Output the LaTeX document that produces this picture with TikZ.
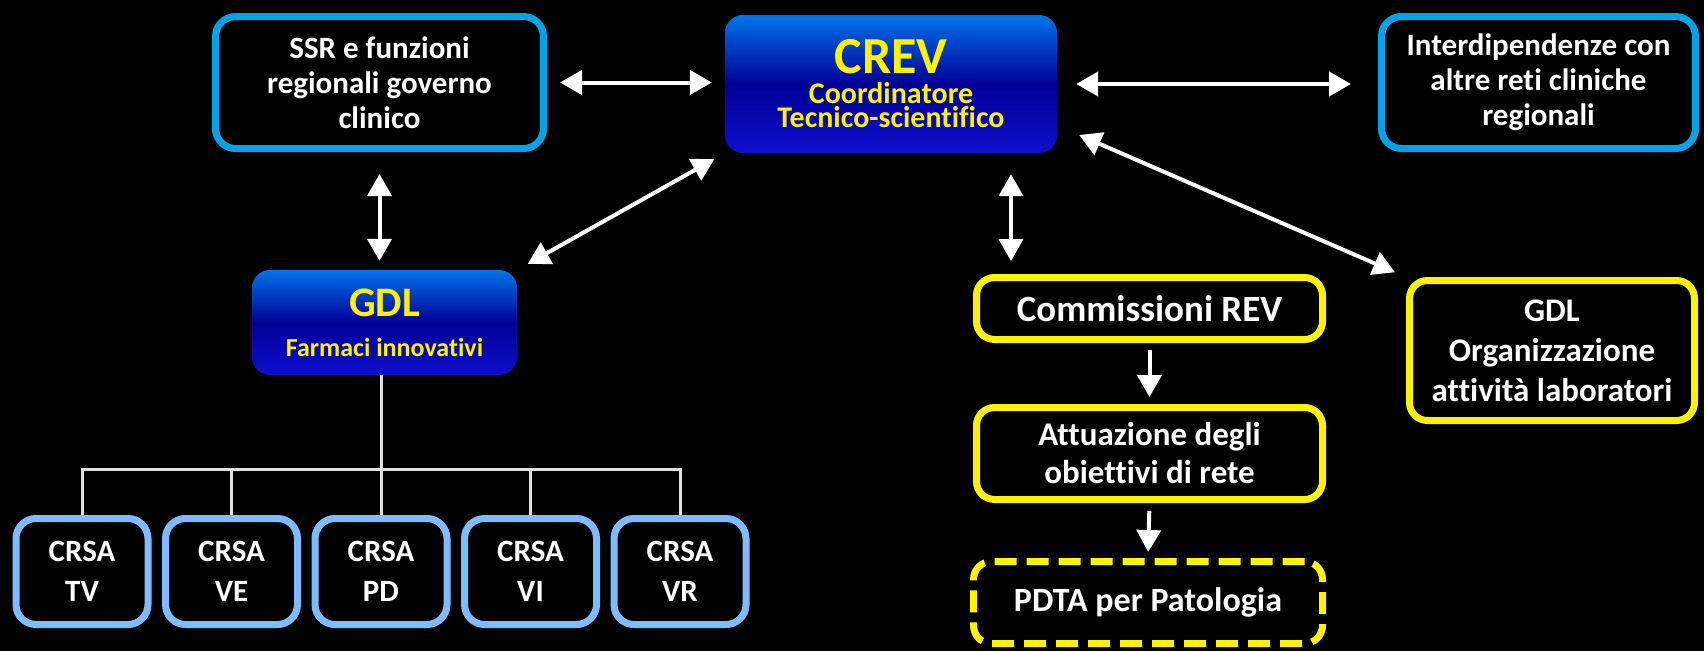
\documentclass[tikz,border=0pt]{standalone}
\usepackage{fontspec}
\setmainfont{Carlito}[Ligatures=NoCommon]
\usetikzlibrary{arrows.meta,positioning}
\definecolor{skyline}{RGB}{0,162,232}
\definecolor{crsablue}{RGB}{125,188,255}
\definecolor{crevtop}{RGB}{0,115,235}
\definecolor{crevmid}{RGB}{0,0,150}
\definecolor{crevbot}{RGB}{15,15,205}

\begin{document}
\begin{tikzpicture}[x=1pt,y=-1pt,font=\bfseries,
		box/.style={draw, line width=7pt, rounded corners=20pt, text=white, align=center, inner sep=0pt},
		bluebox/.style={box, draw=skyline},
		yelbox/.style={box, draw=yellow, rounded corners=18pt},
		crsa/.style={box, draw=crsablue, minimum width=132pt, minimum height=106pt, font=\bfseries\fontsize{31}{40}\selectfont},
		gradbox/.style={rounded corners=18pt, top color=crevtop, bottom color=crevbot, middle color=crevmid, text=yellow, align=center, inner sep=0pt},
		both/.style={white, line width=4pt, {Triangle[length=22pt,width=24pt]}-{Triangle[length=22pt,width=24pt]}},
		one/.style={white, line width=4pt, -{Triangle[length=22pt,width=24pt]}},
		tree/.style={white!88!black, line width=3pt}]
		\fill[black] (0,0) rectangle (1704,651);
		\useasboundingbox (0,0) rectangle (1704,651);
		
		% top row
		\node[bluebox, minimum width=328pt, minimum height=132pt, font=\bfseries\fontsize{31}{35}\selectfont] (ssr) at (379.5,82.5) {SSR e funzioni\\regionali governo\\clinico};
		\node[gradbox, minimum width=332pt, minimum height=138pt, font=\bfseries\fontsize{30}{24}\selectfont] (crev) at (891,84) {{\fontsize{52}{52}\selectfont CREV}\\[6pt]Coordinatore\\Tecnico-scientifico};
		\node[bluebox, minimum width=314pt, minimum height=132pt, font=\bfseries\fontsize{31}{35}\selectfont] (inter) at (1538.5,82.5) {Interdipendenze con\\altre reti cliniche\\regionali};
		
		% left branch
		\node[gradbox, minimum width=265pt, minimum height=105pt, font=\bfseries\fontsize{26}{26}\selectfont] (gdlf) at (384.5,322.5) {{\fontsize{42}{42}\selectfont GDL}\\[14pt]Farmaci innovativi};
		\foreach \name [count=\i] in {TV,VE,PD,VI,VR}
			\node[crsa] (c\i) at ({-67.5+149.5*\i},571.5) {CRSA\\\name};
		
		% right branch
		\node[yelbox, minimum width=346pt, minimum height=62pt, font=\bfseries\fontsize{37}{40}\selectfont] (comm) at (1149.5,308.5) {Commissioni REV};
		\node[yelbox, minimum width=346pt, minimum height=92pt, font=\bfseries\fontsize{33}{38}\selectfont] (attu) at (1149.5,453.5) {Attuazione degli\\obiettivi di rete};
		\node[yelbox, dash pattern=on 22pt off 10pt, minimum width=349pt, minimum height=82pt, font=\bfseries\fontsize{34}{38}\selectfont] (pdta) at (1148,602.5) {PDTA per Patologia};
		\node[yelbox, minimum width=285pt, minimum height=140pt, font=\bfseries\fontsize{33}{40}\selectfont] (gdlo) at (1552,350.5) {GDL\\Organizzazione\\attività laboratori};
		
		% arrows
		\draw[both, shorten <=13pt, shorten >=13pt] (ssr.east) -- (ssr.east -| crev.west);
		\draw[both, shorten <=19pt, shorten >=27pt] (crev.east) -- (crev.east -| inter.west);
		\draw[both, shorten <=22pt, shorten >=9pt] (ssr.south) -- (ssr.south |- gdlf.north);
		\draw[both, shorten <=12pt, shorten >=12pt] (gdlf.north east) -- (crev.south west);
		\coordinate (cv) at (1011,0);
		\draw[both, shorten <=21pt, shorten >=13pt] (crev.south -| cv) -- (cv |- comm.north);
		\draw[both, shorten <=24pt, shorten >=12pt] (crev.-14.5) -- (gdlo.north west);
		\draw[one, shorten <=7pt, shorten >=7pt] (comm.south) -- (attu.north);
		\draw[one, shorten <=8pt, shorten >=6pt] (attu.south) -- (pdta.north);
		
		% tree
		\coordinate (bar) at (0,469);
		\draw[tree] (c1.north) -- (c1.north |- bar) -- (c5.north |- bar) -- (c5.north);
		\draw[tree] (gdlf.south -| c3.north) -- (c3.north);
		\draw[tree] (c2.north |- bar) -- (c2.north);
		\draw[tree] (c4.north |- bar) -- (c4.north);
	\end{tikzpicture}
\end{document}
